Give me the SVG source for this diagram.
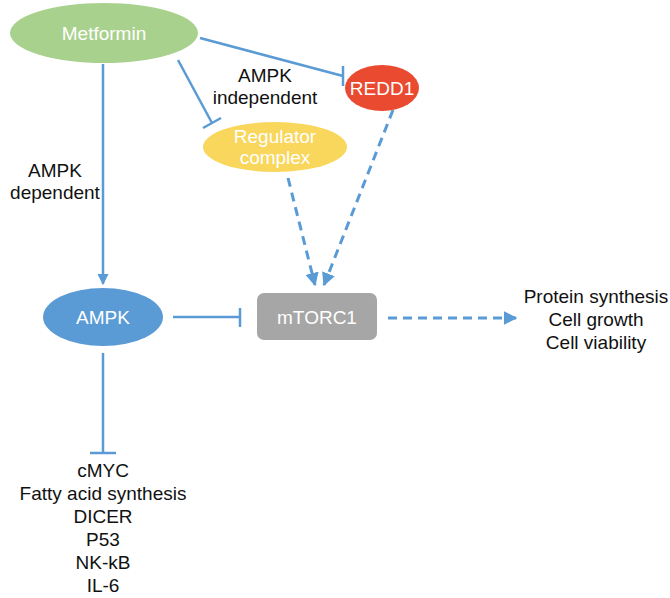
<svg xmlns="http://www.w3.org/2000/svg" width="670" height="598" viewBox="0 0 670 598">
<defs>
<marker id="arr" viewBox="0 0 10 10" refX="9" refY="5" markerWidth="4.5" markerHeight="4.5" orient="auto" markerUnits="strokeWidth">
<path d="M0,0 L10,5 L0,10 z" fill="#5b9bd5"/>
</marker>
<style>
.ln{stroke:#5b9bd5;stroke-width:2.5;fill:none}
.ds{stroke:#5b9bd5;stroke-width:3;fill:none;stroke-dasharray:9 6}
.nt{font-family:"Liberation Sans",Arial,sans-serif;font-size:19px;fill:#ffffff;text-anchor:middle}
.lb{font-family:"Liberation Sans",Arial,sans-serif;font-size:19px;fill:#111111;text-anchor:middle}
</style>
</defs>
<rect width="670" height="598" fill="#ffffff"/>
<g id="connectors">
<line class="ln" x1="200" y1="38" x2="343" y2="76"/>
<line class="ln" x1="343" y1="66" x2="343" y2="86"/>
<line class="ln" x1="178" y1="60" x2="212" y2="123"/>
<line class="ln" x1="203" y1="128" x2="221" y2="118"/>
<line class="ln" x1="103" y1="64" x2="103" y2="284" marker-end="url(#arr)"/>
<line class="ln" x1="173" y1="317" x2="240" y2="317"/>
<line class="ln" x1="240" y1="308" x2="240" y2="327"/>
<line class="ln" x1="103" y1="353" x2="103" y2="453"/>
<line class="ln" x1="90" y1="453" x2="116" y2="453"/>
<line class="ds" x1="288" y1="178" x2="315" y2="285" marker-end="url(#arr)"/>
<line class="ds" x1="393" y1="110" x2="324" y2="285" marker-end="url(#arr)"/>
<line class="ds" x1="388" y1="318" x2="516" y2="318" marker-end="url(#arr)"/>
</g>
<g id="metformin">
<ellipse cx="104" cy="33" rx="94" ry="30" fill="#a9d18e"/>
<text class="nt" x="104" y="40" font-size="20">Metformin</text>
</g>
<g id="redd1">
<ellipse cx="382" cy="88" rx="37" ry="23" fill="#ea4a2f"/>
<text class="nt" x="382" y="95">REDD1</text>
</g>
<g id="regulator">
<ellipse cx="275" cy="147" rx="72" ry="25" fill="#f9d65c"/>
<text class="nt" x="275" y="143">Regulator</text>
<text class="nt" x="275" y="164">complex</text>
</g>
<g id="ampk">
<ellipse cx="103" cy="317" rx="60" ry="29" fill="#5b9bd5"/>
<text class="nt" x="103" y="324">AMPK</text>
</g>
<g id="mtorc1">
<rect x="257" y="293" width="120" height="47" rx="7" fill="#a6a6a6"/>
<text class="nt" x="317" y="324" fill="#eeeeee">mTORC1</text>
</g>
<g id="labels">
<text class="lb" x="265" y="82">AMPK</text>
<text class="lb" x="265" y="104">independent</text>
<text class="lb" x="55" y="177">AMPK</text>
<text class="lb" x="55" y="199">dependent</text>
</g>
<g id="outputs">
<text class="lb" x="596" y="303">Protein synthesis</text>
<text class="lb" x="596" y="326">Cell growth</text>
<text class="lb" x="596" y="349">Cell viability</text>
</g>
<g id="targets">
<text class="lb" x="103" y="477">cMYC</text>
<text class="lb" x="103" y="500">Fatty acid synthesis</text>
<text class="lb" x="103" y="523">DICER</text>
<text class="lb" x="103" y="546">P53</text>
<text class="lb" x="103" y="569">NK-kB</text>
<text class="lb" x="103" y="592">IL-6</text>
</g>
</svg>
